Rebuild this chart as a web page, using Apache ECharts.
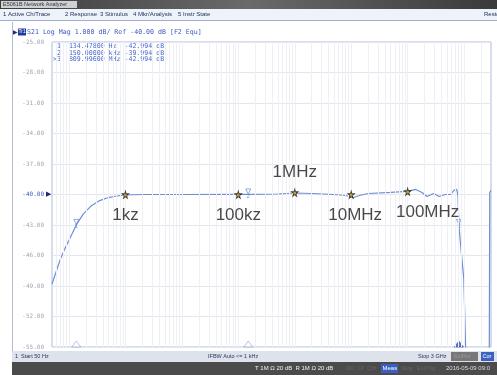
<!DOCTYPE html>
<html>
<head>
<meta charset="utf-8">
<script src="https://cdn.jsdelivr.net/npm/echarts@6/dist/echarts.min.js"></script>
<style>
html,body{margin:0;padding:0;background:#fff;}
#chart{width:497px;height:375px;}
</style>
</head>
<body>
<div id="chart"></div>
<script>
// trace S21 (Hz / dB)
var traceFreq = [50, 60, 70, 85, 100, 134.478, 180, 250, 350, 500, 700, 1e3, 2e3, 1e4, 1e5, 1.5e5, 5e5, 1e6, 2e6, 5e6, 8e6, 1.1e7, 1.4e7, 2e7, 5e7, 1e8,
	1.39e8, 1.8e8, 2.2e8, 2.9e8, 3.6e8, 4.7e8, 5.8e8, 6.6e8, 7.4e8, 7.8e8, 8.1e8, 8.7e8, 9.9e8, 1.06e9, 1.15e9, 2.75e9, 2.85e9, 3e9];
var traceDb = [-48.8, -47.5, -46.4, -45.3, -44.5, -42.994, -41.9, -41.1, -40.6, -40.3, -40.15, -40.05, -40.0, -40.0, -39.99, -39.994, -39.95, -39.85, -39.9, -40.0, -40.1, -40.3, -40.1, -39.9, -39.8, -39.7,
	-39.5, -39.8, -40.2, -39.9, -40.2, -40.0, -40.0, -39.6, -39.5, -40.1, -42.994, -45.0, -48.3, -54.5, -70, -70, -39.8, -39.6];
// 仪器 marker
var markerFreq = [134.478, 1.5e5, 8.09996e8];
var markerDb = [-42.994, -39.994, -42.994];
var markerName = ['1', '2', '3'];
var markerText = [' 1  134.47800 Hz  -42.994 dB', ' 2  150.00000 kHz -39.994 dB', '>3  809.99600 MHz -42.994 dB'];
// 手写的星号标注
var starFreq = [1e3, 1e5, 1e6, 1e7, 1e8];
var starDb = [-40.0, -40.0, -39.8, -40.0, -39.7];
var starLabel = ['1kz', '100kz', '1MHz', '10MHz', '100MHz'];
// 轴
var yMin = -55, yMax = -25, yStep = 3;
var fStart = 50, fStop = 3e9;

var starSide = ['bottom', 'bottom', 'top', 'bottom', 'bottom'];
var starShift = [0, 0, 0, 4, 20];

// log 网格线 1..9 x 10^n
var gridFreq = [];
for (var d = 1; d <= 9; d++) {
	for (var k = 1; k <= 9; k++) {
		var f = k * Math.pow(10, d);
		if (f > fStart && f < fStop) gridFreq.push(f);
	}
}

var traceData = traceFreq.map(function (f, i) { return [f, traceDb[i]]; });
var starPath = 'path://M50,0 L61,35 L98,35 L68,57 L79,91 L50,70 L21,91 L32,57 L2,35 L39,35 Z';
var blue = '#3a58c0';
var mono = '"DejaVu Sans Mono", monospace';
var sans = '"Liberation Sans", Arial, sans-serif';

var chart = echarts.init(document.getElementById('chart'));

var graphics = [
	// 标题栏
	{ type: 'rect', shape: { x: 0, y: 0, width: 497, height: 9 }, style: { fill: new echarts.graphic.LinearGradient(0, 0, 1, 0, [{ offset: 0, color: '#3c3c3c' }, { offset: 0.5, color: '#6a6a6a' }, { offset: 1, color: '#3a3a3a' }]) } },
	{ type: 'rect', shape: { x: 1, y: 1, width: 76, height: 7 }, style: { fill: '#cdd0d5' } },
	{ type: 'text', x: 3, y: 4.5, style: { text: 'E5061B Network Analyzer', font: '5.5px ' + sans, fill: '#333', verticalAlign: 'middle' } },
	// 菜单栏
	{ type: 'rect', shape: { x: 0, y: 9, width: 497, height: 11 }, style: { fill: '#eef2f9' } },
	{ type: 'line', shape: { x1: 0, y1: 20.5, x2: 497, y2: 20.5 }, style: { stroke: '#9fb0d0', lineWidth: 1 } },
	{ type: 'text', x: 3, y: 14.5, style: { text: '1 Active Ch/Trace', font: '6px ' + sans, fill: '#1d2b5a', verticalAlign: 'middle' } },
	{ type: 'text', x: 65, y: 14.5, style: { text: '2 Response', font: '6px ' + sans, fill: '#1d2b5a', verticalAlign: 'middle' } },
	{ type: 'text', x: 100, y: 14.5, style: { text: '3 Stimulus', font: '6px ' + sans, fill: '#1d2b5a', verticalAlign: 'middle' } },
	{ type: 'text', x: 133, y: 14.5, style: { text: '4 Mkr/Analysis', font: '6px ' + sans, fill: '#1d2b5a', verticalAlign: 'middle' } },
	{ type: 'text', x: 178, y: 14.5, style: { text: '5 Instr State', font: '6px ' + sans, fill: '#1d2b5a', verticalAlign: 'middle' } },
	{ type: 'text', x: 484, y: 14.5, style: { text: 'Resto', font: '6px ' + sans, fill: '#1d2b5a', verticalAlign: 'middle' } },
	// 通道窗口左边框
	{ type: 'line', shape: { x1: 12.5, y1: 22, x2: 12.5, y2: 351 }, style: { stroke: '#b4bccb', lineWidth: 1 } },
	// trace 标题
	{ type: 'text', x: 13, y: 32, style: { text: '▶', font: '6px ' + sans, fill: '#1d2b7a', verticalAlign: 'middle' } },
	{ type: 'rect', shape: { x: 18, y: 28.5, width: 8, height: 7 }, style: { fill: '#1f3a9a' } },
	{ type: 'text', x: 18.5, y: 32, style: { text: 'Tr1', font: '5px ' + sans, fill: '#fff', verticalAlign: 'middle' } },
	{ type: 'text', x: 27, y: 32, style: { text: 'S21 Log Mag 1.000 dB/ Ref -40.00 dB [F2 Equ]', font: '6.6px ' + mono, fill: blue, verticalAlign: 'middle' } },
	// 状态栏
	{ type: 'rect', shape: { x: 12, y: 351, width: 485, height: 11 }, style: { fill: '#dde2eb' } },
	{ type: 'text', x: 15, y: 356.5, style: { text: '1  Start 50 Hz', font: '5.5px ' + sans, fill: '#2a3560', verticalAlign: 'middle' } },
	{ type: 'text', x: 208, y: 356.5, style: { text: 'IFBW Auto <= 1 kHz', font: '5.5px ' + sans, fill: '#2a3560', verticalAlign: 'middle' } },
	{ type: 'text', x: 418, y: 356.5, style: { text: 'Stop 3 GHz', font: '5.5px ' + sans, fill: '#2a3560', verticalAlign: 'middle' } },
	{ type: 'rect', shape: { x: 451, y: 352, width: 27, height: 9 }, style: { fill: '#777' } },
	{ type: 'text', x: 454, y: 356.5, style: { text: 'ExtRef', font: '5.5px ' + sans, fill: '#999', verticalAlign: 'middle' } },
	{ type: 'rect', shape: { x: 481, y: 352, width: 13, height: 9 }, style: { fill: '#3a60c0' } },
	{ type: 'text', x: 482.5, y: 356.5, style: { text: 'Cor', font: '5.5px ' + sans, fill: '#fff', verticalAlign: 'middle' } },
	// 底栏
	{ type: 'rect', shape: { x: 12, y: 362, width: 485, height: 13 }, style: { fill: '#4b4b4b' } },
	{ type: 'text', x: 255, y: 368.5, style: { text: 'T 1M Ω 20 dB  R 1M Ω 20 dB', font: '6px ' + sans, fill: '#f2f2f2', verticalAlign: 'middle' } },
	{ type: 'text', x: 346, y: 368.5, style: { text: 'DC  Ul  Ctrl', font: '6px ' + sans, fill: '#666', verticalAlign: 'middle' } },
	{ type: 'rect', shape: { x: 381, y: 364, width: 17, height: 9 }, style: { fill: '#3a5fc0' } },
	{ type: 'text', x: 382.5, y: 368.5, style: { text: 'Meas', font: '6px ' + sans, fill: '#fff', verticalAlign: 'middle' } },
	{ type: 'text', x: 401, y: 368.5, style: { text: 'Stop  ExtTrig', font: '6px ' + sans, fill: '#666', verticalAlign: 'middle' } },
	{ type: 'text', x: 446, y: 368.5, style: { text: '2016-05-09 09:0', font: '6px ' + sans, fill: '#ddd', verticalAlign: 'middle' } }
];
// marker 表
for (var i = 0; i < markerText.length; i++) {
	graphics.push({ type: 'text', x: 53, y: 46.5 + i * 6.5, style: { text: markerText[i], font: '6.6px ' + mono, fill: '#4a68cc', verticalAlign: 'middle' } });
}

var option = {
	animation: false,
	backgroundColor: '#fff',
	grid: {
		left: 52, top: 42, right: 6, bottom: 28,
		show: true, borderColor: '#aebbd8', borderWidth: 1, backgroundColor: '#fff'
	},
	xAxis: {
		type: 'log', logBase: 10, min: fStart, max: fStop,
		axisLine: { show: false }, axisTick: { show: false }, axisLabel: { show: false },
		splitLine: { show: false }
	},
	yAxis: {
		type: 'value', min: yMin, max: yMax, interval: yStep,
		axisLine: { show: false }, axisTick: { show: false },
		splitLine: { show: true, lineStyle: { color: '#e2e6ef', width: 1 } },
		axisLabel: {
			margin: 1,
			formatter: function (v) {
				if (v === -40) return '{b|' + v.toFixed(2) + '}{t|▶}';
				return '{a|' + v.toFixed(2) + '}{s|}';
			},
			rich: {
				a: { color: '#a0a6b4', fontSize: 6, fontFamily: mono },
				b: { color: blue, fontSize: 6, fontFamily: mono },
				s: { width: 7 },
				t: { color: '#1d2b7a', fontSize: 7, width: 7, align: 'right' }
			}
		}
	},
	graphic: graphics,
	series: [
		{
			// 竖直网格线
			type: 'line', z: 1, silent: true, data: [[fStart, yMin]], symbol: 'none',
			lineStyle: { opacity: 0 },
			markLine: {
				silent: true, symbol: 'none', label: { show: false },
				lineStyle: { color: '#eef0f5', width: 1, type: 'solid' },
				data: gridFreq.map(function (f) { return { xAxis: f }; })
			}
		},
		{
			name: 'S21', type: 'line', z: 3, data: traceData, symbol: 'none',
			clip: true,
			lineStyle: { color: '#6d90d4', width: 1.2 }
		},
		{
			// 轨迹上的 marker
			type: 'scatter', z: 4, silent: true,
			data: markerFreq.map(function (f, i) { return [f, markerDb[i]]; }),
			symbol: 'triangle', symbolRotate: 180, symbolSize: 5, symbolOffset: [0, -3],
			itemStyle: { color: 'rgba(0,0,0,0)', borderColor: '#5a7ed0', borderWidth: 0.8 },
			label: {
				show: true, position: 'bottom', distance: -1,
				formatter: function (p) { return markerName[p.dataIndex]; },
				color: '#5a7ed0', fontSize: 6, fontFamily: sans
			}
		},
		{
			// 底部 marker 指示
			type: 'scatter', z: 4, silent: true,
			data: markerFreq.map(function (f, i) {
				var active = i === markerFreq.length - 1;
				return {
					value: [f, yMin],
					itemStyle: active ? { color: '#2f55b0', borderColor: '#2f55b0' } : { color: '#fff', borderColor: '#8ea2cc' }
				};
			}),
			symbol: 'triangle', symbolSize: [9, 6], symbolOffset: [0, -3],
			itemStyle: { borderWidth: 0.8 }
		},
		{
			// 星号
			type: 'scatter', z: 5, silent: true,
			data: starFreq.map(function (f, i) {
				return {
					value: [f, starDb[i]],
					label: {
						show: true, position: starSide[i], distance: 7, offset: [starShift[i], 0],
						formatter: starLabel[i]
					}
				};
			}),
			symbol: starPath, symbolSize: [9, 10],
			itemStyle: { color: '#111' },
			label: { color: '#1a1a1a', fontSize: 17, fontFamily: sans }
		},
		{
			type: 'scatter', z: 6, silent: true,
			data: starFreq.map(function (f, i) { return [f, starDb[i]]; }),
			symbol: 'circle', symbolSize: 3, symbolOffset: [0, 0.5],
			itemStyle: { color: '#e8b020' }
		}
	]
};
chart.setOption(option);
</script>
</body>
</html>
